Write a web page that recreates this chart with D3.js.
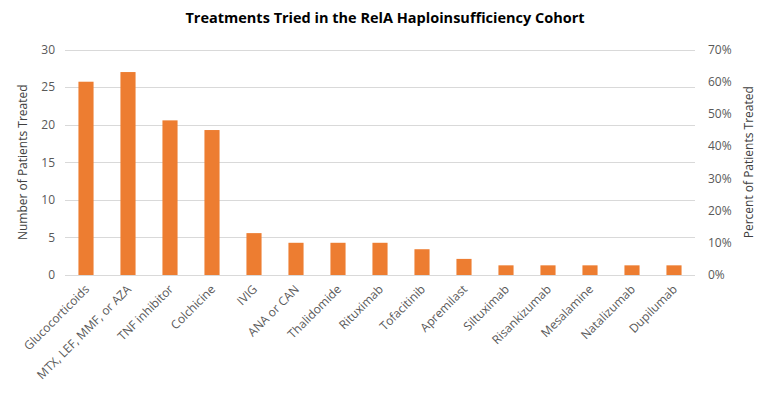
<!DOCTYPE html>
<html>
<head>
<meta charset="utf-8">
<script src="https://cdn.jsdelivr.net/npm/d3@7/dist/d3.min.js"></script>
<style>
  body { margin: 0; background: #fff; }
  svg text { font-family: "Open Sans", "DejaVu Sans", sans-serif; }
</style>
</head>
<body>
<div id="chart"></div>
<script>
// treatments and percent of cohort treated (bars are drawn on the percent axis)
const treatments = ["Glucocorticoids", "MTX, LEF, MMF, or AZA", "TNF inhibitor", "Colchicine", "IVIG",
  "ANA or CAN", "Thalidomide", "Rituximab", "Tofacitinib", "Apremilast", "Siltuximab",
  "Risankizumab", "Mesalamine", "Natalizumab", "Dupilumab"];
const percentTreated = [60, 63, 48, 45, 13, 10, 10, 10, 8, 5, 3, 3, 3, 3, 3];
const countTicks = [0, 5, 10, 15, 20, 25, 30];
const percentTicks = [0, 10, 20, 30, 40, 50, 60, 70];

const width = 766, height = 397;
const margin = { top: 49.5, right: 71, bottom: 122, left: 65 };

const svg = d3.select('#chart').append('svg')
  .attr('width', width)
  .attr('height', height);

const x = d3.scaleBand()
  .domain(treatments)
  .range([margin.left, width - margin.right])
  .paddingInner(0.64)
  .paddingOuter(0.32);

const yCount = d3.scaleLinear().domain([0, 30]).range([height - margin.bottom, margin.top]);
const yPct = d3.scaleLinear().domain([0, 70]).range([height - margin.bottom, margin.top]);

// gridlines
svg.append('g')
  .selectAll('line')
  .data(countTicks)
  .enter().append('line')
  .attr('x1', margin.left)
  .attr('x2', width - margin.right)
  .attr('y1', d => Math.round(yCount(d)) + 0.5)
  .attr('y2', d => Math.round(yCount(d)) + 0.5)
  .attr('stroke', '#d9d9d9')
  .attr('stroke-width', 1);

// bars
svg.append('g')
  .selectAll('rect')
  .data(treatments)
  .enter().append('rect')
  .attr('x', d => x(d))
  .attr('width', x.bandwidth())
  .attr('y', (d, i) => yPct(percentTreated[i]))
  .attr('height', (d, i) => yPct(0) - yPct(percentTreated[i]))
  .attr('fill', '#ed7d31');

// left axis
const leftAxis = svg.append('g')
  .attr('transform', `translate(${margin.left - 10},0)`)
  .call(d3.axisLeft(yCount).tickValues(countTicks).tickSize(0).tickPadding(0));
leftAxis.select('.domain').remove();
leftAxis.selectAll('text')
  .attr('fill', '#595959')
  .style('font-size', '12px');

// right axis
const rightAxis = svg.append('g')
  .attr('transform', `translate(${width - margin.right + 13},0)`)
  .call(d3.axisRight(yPct).tickValues(percentTicks).tickFormat(d => d + '%').tickSize(0).tickPadding(0));
rightAxis.select('.domain').remove();
rightAxis.selectAll('text')
  .attr('fill', '#595959')
  .style('font-size', '12px');

// category labels
const bottomAxis = svg.append('g')
  .attr('transform', `translate(0,${height - margin.bottom})`)
  .call(d3.axisBottom(x).tickSize(0).tickPadding(0));
bottomAxis.select('.domain').remove();
bottomAxis.selectAll('text')
  .attr('fill', '#595959')
  .style('font-size', '12px')
  .style('text-anchor', 'end')
  .attr('dy', null)
  .attr('y', 0)
  .attr('transform', 'translate(4,15) rotate(-45)');

// axis titles
svg.append('text')
  .attr('transform', `translate(27,${(margin.top + height - margin.bottom) / 2}) rotate(-90)`)
  .attr('text-anchor', 'middle')
  .attr('fill', '#404040')
  .style('font-size', '12px')
  .text('Number of Patients Treated');

svg.append('text')
  .attr('transform', `translate(753,${(margin.top + height - margin.bottom) / 2}) rotate(-90)`)
  .attr('text-anchor', 'middle')
  .attr('fill', '#404040')
  .style('font-size', '12px')
  .text('Percent of Patients Treated');

// title
svg.append('text')
  .attr('x', 385)
  .attr('y', 23)
  .attr('text-anchor', 'middle')
  .attr('fill', '#000')
  .style('font-size', '14.5px')
  .style('font-weight', 'bold')
  .text('Treatments Tried in the RelA Haploinsufficiency Cohort');
</script>
</body>
</html>
